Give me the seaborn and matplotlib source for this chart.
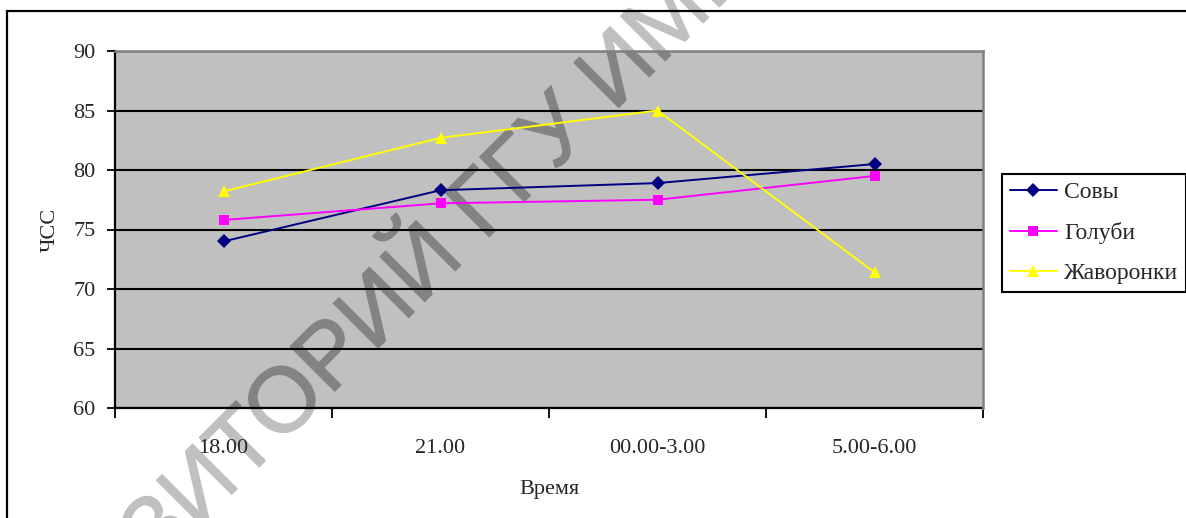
import matplotlib
matplotlib.use("Agg")
import math
import matplotlib.pyplot as plt
import matplotlib.patheffects as pe
import seaborn as sns
import pandas as pd
from matplotlib.patches import Rectangle
from matplotlib.ticker import FixedLocator

# ---- data ----
categories = ["18.00", "21.00", "00.00-3.00", "5.00-6.00"]
sovy = [74.0, 78.3, 78.9, 80.5]          # Совы
golubi = [75.8, 77.2, 77.5, 79.5]        # Голуби
zhavoronki = [78.2, 82.7, 85.0, 71.4]    # Жаворонки
series_names = ["Совы", "Голуби", "Жаворонки"]
y_ticks = [60, 65, 70, 75, 80, 85, 90]
watermark = "РЕПОЗИТОРИЙ ГГУ ИМЕНИ Ф. СКОРИНЫ"

sns.set_theme(style="white")
plt.rcParams["font.family"] = ["Liberation Serif", "DejaVu Serif"]

W, H = 1186, 518
FS = 16
fig = plt.figure(figsize=(W / 100, H / 100), dpi=100)
fig.patch.set_facecolor("white")

L, R, T, B = 115, 983, 51, 408
ax = fig.add_axes([L / W, 1 - B / H, (R - L) / W, (B - T) / H])
ax.set_facecolor("#C0C0C0")

styles = [
    dict(color="#000080", marker="D", markersize=7),
    dict(color="#FF00FF", marker="s", markersize=7.5),
    dict(color="#FFFF00", marker="^", markersize=9),
]
for name, vals, st in zip(series_names, [sovy, golubi, zhavoronki], styles):
    df = pd.DataFrame({"Время": categories, "ЧСС": vals})
    sns.lineplot(data=df, x="Время", y="ЧСС", ax=ax, sort=False, label=name,
                 color=st["color"], marker=st["marker"], markersize=st["markersize"],
                 markeredgewidth=0, linewidth=1.4, zorder=3)

ax.set_ylim(60, 90)
ax.set_yticks(y_ticks)
ax.set_xlim(-0.5, len(categories) - 0.5)
ax.xaxis.set_minor_locator(FixedLocator([i - 0.5 for i in range(len(categories) + 1)]))

ax.grid(axis="y", color="black", linewidth=1.5)
ax.grid(axis="x", visible=False)
ax.set_axisbelow(True)

for s in ["left", "bottom"]:
    ax.spines[s].set_color("black")
    ax.spines[s].set_linewidth(1.6)
for s in ["top", "right"]:
    ax.spines[s].set_color("#808080")
    ax.spines[s].set_linewidth(1.8)
    ax.spines[s].set_zorder(2.6)

ax.tick_params(axis="y", which="major", direction="out", length=6, width=1.3,
               color="black", labelsize=FS, pad=8, left=True)
ax.tick_params(axis="x", which="major", length=0, labelsize=FS, pad=22, bottom=True)
ax.tick_params(axis="x", which="minor", direction="out", length=7, width=1.3,
               color="black", bottom=True)

ax.set_xlabel("Время", fontsize=FS, labelpad=16)
ax.set_ylabel("ЧСС", fontsize=FS, labelpad=10)

handles, labels = ax.get_legend_handles_labels()
if ax.get_legend() is not None:
    ax.get_legend().remove()
leg = fig.legend(handles, labels, loc="upper left",
                 bbox_to_anchor=(1002 / W, 1 - 174 / H), borderaxespad=0,
                 fontsize=17, frameon=True, fancybox=False, framealpha=1,
                 edgecolor="black", borderpad=0.32, handlelength=2.0,
                 handletextpad=0.3, labelspacing=0.8)
leg.get_frame().set_linewidth(1.5)

# outer chart-area border (clipped on right and bottom)
fig.add_artist(Rectangle((7 / W, -0.5), 2.0, 0.5 + (1 - 11 / H),
                         transform=fig.transFigure, fill=False,
                         edgecolor="black", linewidth=1.6))

# diagonal watermark: light grey on white, darker grey over the plot area
WM_FS = 66
ANG = 45
wm_family = ["Liberation Sans", "DejaVu Sans"]
renderer = fig.canvas.get_renderer()


def text_width(s):
    t = fig.text(0, 0, s, fontsize=WM_FS, family=wm_family)
    w = t.get_window_extent(renderer).width
    t.remove()
    return w


# place the string so that the second "И" (of "ИМЕНИ") starts where it does in the picture
prefix_w = text_width("РЕПОЗИТОРИЙ ГГУ И") - text_width("И")
anchor_px = (613, 113)   # image pixels, y from top
c, s_ = math.cos(math.radians(ANG)), math.sin(math.radians(ANG))
sx = anchor_px[0] - prefix_w * c
sy = anchor_px[1] + prefix_w * s_
wx, wy = sx / W, 1 - sy / H

wm_kw = dict(rotation=ANG, rotation_mode="anchor", ha="left", va="baseline",
             fontsize=WM_FS, family=wm_family)
fig.text(wx, wy, watermark, color="#C0C0C0", zorder=-1,
         path_effects=[pe.Stroke(linewidth=1.0, foreground="#C0C0C0"), pe.Normal()],
         **wm_kw)
t_in = ax.text(wx, wy, watermark, transform=fig.transFigure, color="#838383",
               zorder=0.3, clip_on=True,
               path_effects=[pe.Stroke(linewidth=1.0, foreground="#838383"), pe.Normal()],
               **wm_kw)
t_in.set_clip_box(ax.bbox)

fig.savefig("out.png", dpi=100)
